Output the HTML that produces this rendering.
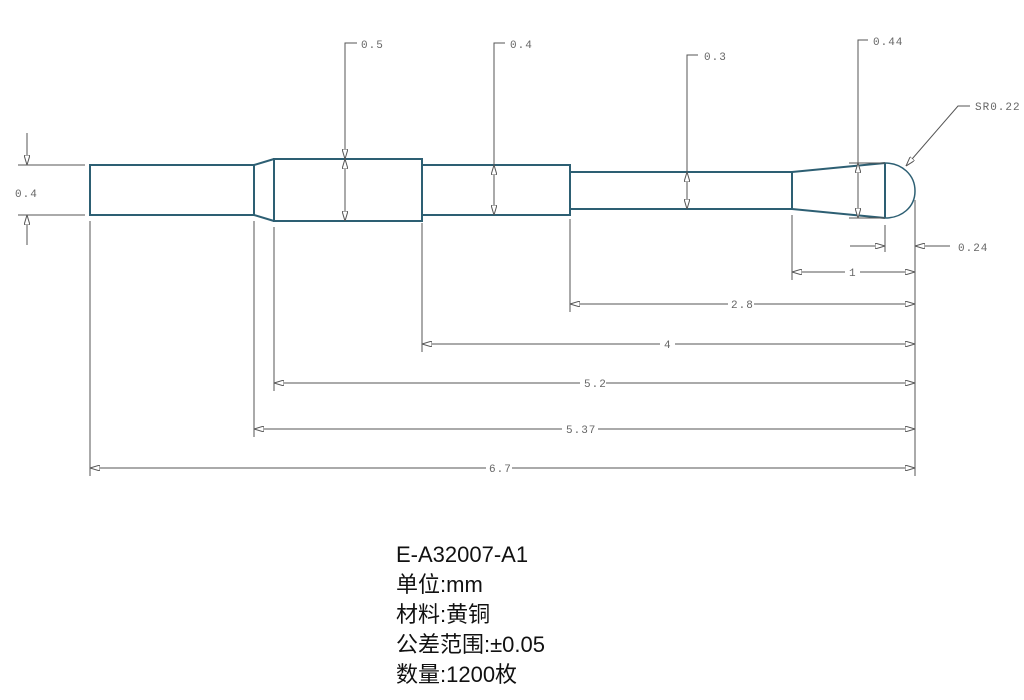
<!DOCTYPE html>
<html><head><meta charset="utf-8"><style>
html,body{margin:0;padding:0;background:#fff;width:1024px;height:700px;overflow:hidden}
svg{display:block}
.d{stroke:#555;stroke-width:1;fill:none}
.p{stroke:#2d5f73;stroke-width:2;fill:none}
.t{font-family:"Liberation Mono",monospace;font-size:11px;fill:#666;letter-spacing:1px}
.b{font-family:"Liberation Sans","Noto Sans CJK SC",sans-serif;font-size:22px;fill:#111}
</style></head><body>
<svg width="1024" height="700" viewBox="0 0 1024 700" xmlns="http://www.w3.org/2000/svg">
<defs>
<marker id="a" viewBox="0 0 10 6" refX="10" refY="3" markerWidth="10" markerHeight="6" orient="auto-start-reverse" markerUnits="userSpaceOnUse">
<path d="M0,0 L10,3 L0,6 Z" fill="#fff" stroke="#555" stroke-width="1"/></marker>
</defs>
<!-- part -->
<path class="p" d="M90,165 H254 V215 H90 Z"/>
<path class="p" d="M254,165 L274,159 M254,215 L274,221"/>
<path class="p" d="M274,159 H422 V221 H274 Z"/>
<path class="p" d="M422,165 H570 V215 H422 Z"/>
<path class="p" d="M570,172 H792 V209 H570 Z"/>
<path class="p" d="M792,172 L885,163 M792,209 L885,218 M885,163 V218"/>
<path d="M885,163 C902,163 915,175 915,191 C915,207 902,218 885,218" stroke="#2d5f73" stroke-width="1.5" fill="none"/>
<!-- left 0.4 -->
<path class="d" d="M18,165 H85 M18,215 H85"/>
<path class="d" d="M27,133 V165" marker-end="url(#a)"/>
<path class="d" d="M27,245 V215" marker-end="url(#a)"/>
<text class="t" x="15" y="197">0.4</text>
<!-- vertical dims -->
<path class="d" d="M357,43 H345 V159" marker-end="url(#a)"/><path class="d" d="M345,159 V221" marker-start="url(#a)" marker-end="url(#a)"/>
<text class="t" x="361" y="48">0.5</text>
<path class="d" d="M505,43 H494 V165"/><path class="d" d="M494,165 V215" marker-start="url(#a)" marker-end="url(#a)"/>
<text class="t" x="510" y="48">0.4</text>
<path class="d" d="M698,55 H687 V172"/><path class="d" d="M687,172 V209" marker-start="url(#a)" marker-end="url(#a)"/>
<text class="t" x="704" y="60">0.3</text>
<path class="d" d="M868,40 H858 V163"/><path class="d" d="M858,163 V218" marker-start="url(#a)" marker-end="url(#a)"/>
<path class="d" d="M849,163 H885 M849,218 H885"/>
<text class="t" x="873" y="45">0.44</text>
<!-- SR -->
<path class="d" d="M970,106 H958 L906,166" marker-end="url(#a)"/>
<text class="t" x="975" y="110">SR0.22</text>
<!-- extension lines -->
<path class="d" d="M885,225 V252 M915,200 V476 M792,215 V280 M570,219 V312 M422,223 V352 M274,227 V391 M254,221 V437 M90,221 V476"/>
<!-- 0.24 -->
<path class="d" d="M850,246 H885" marker-end="url(#a)"/>
<path class="d" d="M950,246 H915" marker-end="url(#a)"/>
<text class="t" x="958" y="251">0.24</text>
<!-- horizontal dims -->
<path class="d" d="M792,272 H845 M860,272 H915"/><path class="d" d="M802,272 H792" marker-end="url(#a)"/><path class="d" d="M905,272 H915" marker-end="url(#a)"/>
<text class="t" x="849" y="276">1</text>
<g>
<path class="d" d="M570,304 H728 M754,304 H915"/><path class="d" d="M580,304 H570" marker-end="url(#a)"/><path class="d" d="M905,304 H915" marker-end="url(#a)"/>
<text class="t" x="731" y="308">2.8</text>
<path class="d" d="M422,344 H660 M675,344 H915"/><path class="d" d="M432,344 H422" marker-end="url(#a)"/><path class="d" d="M905,344 H915" marker-end="url(#a)"/>
<text class="t" x="664" y="348">4</text>
<path class="d" d="M274,383 H580 M606,383 H915"/><path class="d" d="M284,383 H274" marker-end="url(#a)"/><path class="d" d="M905,383 H915" marker-end="url(#a)"/>
<text class="t" x="584" y="387">5.2</text>
<path class="d" d="M254,429 H562 M598,429 H915"/><path class="d" d="M264,429 H254" marker-end="url(#a)"/><path class="d" d="M905,429 H915" marker-end="url(#a)"/>
<text class="t" x="566" y="433">5.37</text>
<path class="d" d="M90,468 H486 M512,468 H915"/><path class="d" d="M100,468 H90" marker-end="url(#a)"/><path class="d" d="M905,468 H915" marker-end="url(#a)"/>
<text class="t" x="489" y="472">6.7</text>
</g>
<text class="b" x="396" y="562">E-A32007-A1</text>
<text class="b" x="396" y="592">单位:mm</text>
<text class="b" x="396" y="622">材料:黄铜</text>
<text class="b" x="396" y="652">公差范围:±0.05</text>
<text class="b" x="396" y="682">数量:1200枚</text>
</svg>
</body></html>
